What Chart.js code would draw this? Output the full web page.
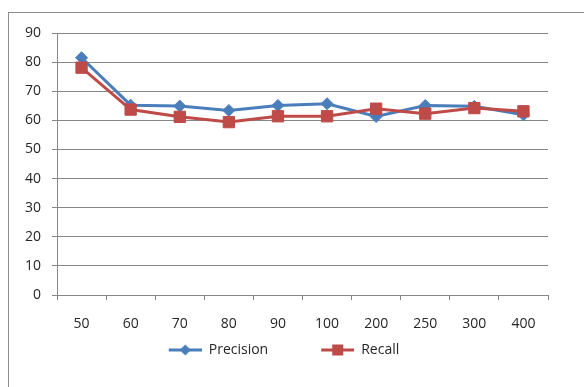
<!DOCTYPE html>
<html>
<head>
<meta charset="utf-8">
<script src="https://cdn.jsdelivr.net/npm/chart.js@4.4.0/dist/chart.umd.min.js"></script>
<style>
    body { margin: 0; background: #fff; }
    #wrap { position: relative; width: 584px; height: 387px; overflow: hidden; }
    #frame { position: absolute; left: 8px; top: 12px; width: 620px; height: 420px; border: 1px solid #8c8c8c; box-sizing: border-box; }
    #chart { position: absolute; left: 0; top: 0; }
</style>
</head>
<body>
<div id="wrap">
    <div id="frame"></div>
    <canvas id="chart" width="584" height="387"></canvas>
</div>
<script>
const categories = ['50', '60', '70', '80', '90', '100', '200', '250', '300', '400'];
const precision = [81.5, 65.2, 64.9, 63.4, 65.1, 65.7, 61.3, 65.1, 64.8, 61.9];
const recall = [78.1, 63.7, 61.2, 59.4, 61.4, 61.4, 64.0, 62.3, 64.2, 63.1];
const yTicks = [0, 10, 20, 30, 40, 50, 60, 70, 80, 90];

const blue = '#4a7ebb';
const red = '#be4b48';
const axisGray = '#868686';
const textColor = '#262626';
const font = { family: "'Open Sans', sans-serif", size: 14 };

// legend swatch: blank lead-in (for item spacing), then line with marker
const lead = 45;
function legendIcon(color, shape) {
    const c = document.createElement('canvas');
    c.width = lead + 33;
    c.height = 14;
    const g = c.getContext('2d');
    g.strokeStyle = color;
    g.lineWidth = 3;
    g.beginPath();
    g.moveTo(lead, 7);
    g.lineTo(lead + 33, 7);
    g.stroke();
    g.fillStyle = color;
    const mid = lead + 16.5;
    if (shape === 'diamond') {
        g.beginPath();
        g.moveTo(mid, 1.5);
        g.lineTo(mid + 5.5, 7);
        g.lineTo(mid, 12.5);
        g.lineTo(mid - 5.5, 7);
        g.closePath();
        g.fill();
    } else {
        g.fillRect(mid - 5.5, 1.5, 11, 11);
    }
    return c;
}

const ctx = document.getElementById('chart').getContext('2d');
new Chart(ctx, {
    type: 'line',
    data: {
        labels: categories,
        datasets: [{
            label: 'Precision',
            data: precision,
            borderColor: blue,
            backgroundColor: blue,
            borderWidth: 3,
            pointStyle: 'rectRot',
            pointRadius: 6,
            pointBorderWidth: 1,
            tension: 0,
            order: 1,
            legendIcon: legendIcon(blue, 'diamond')
        }, {
            label: 'Recall',
            data: recall,
            borderColor: red,
            backgroundColor: red,
            borderWidth: 3,
            pointStyle: 'rect',
            pointRadius: 8,
            pointBorderWidth: 1,
            tension: 0,
            order: 0,
            legendIcon: legendIcon(red, 'square')
        }]
    },
    options: {
        responsive: false,
        animation: false,
        layout: { padding: { left: -25, right: 36, top: 33, bottom: 20 } },
        font: font,
        scales: {
            x: {
                offset: true,
                grid: { offset: true, drawOnChartArea: false, color: axisGray, tickLength: 5 },
                border: { color: axisGray, width: 1 },
                ticks: { color: textColor, padding: 16, maxRotation: 0, font: font },
                afterFit: (scale) => { scale.height = 40; }
            },
            y: {
                min: 0,
                max: 90,
                afterBuildTicks: (scale) => { scale.ticks = yTicks.map(v => ({ value: v })); },
                grid: { color: axisGray, tickLength: 5 },
                border: { color: axisGray, width: 1 },
                ticks: { color: textColor, padding: 11, font: font },
                afterFit: (scale) => { scale.width = 82; }
            }
        },
        plugins: {
            legend: {
                position: 'bottom',
                labels: {
                    usePointStyle: true,
                    pointStyleWidth: lead + 33,
                    padding: 8,
                    color: textColor,
                    font: font,
                    generateLabels: (chart) => chart.data.datasets.map((ds, i) => ({
                        text: ds.label,
                        pointStyle: ds.legendIcon,
                        fillStyle: ds.borderColor,
                        strokeStyle: ds.borderColor,
                        fontColor: textColor,
                        lineWidth: 0,
                        hidden: false,
                        datasetIndex: i
                    }))
                }
            },
            tooltip: { enabled: false }
        }
    }
});
</script>
</body>
</html>
